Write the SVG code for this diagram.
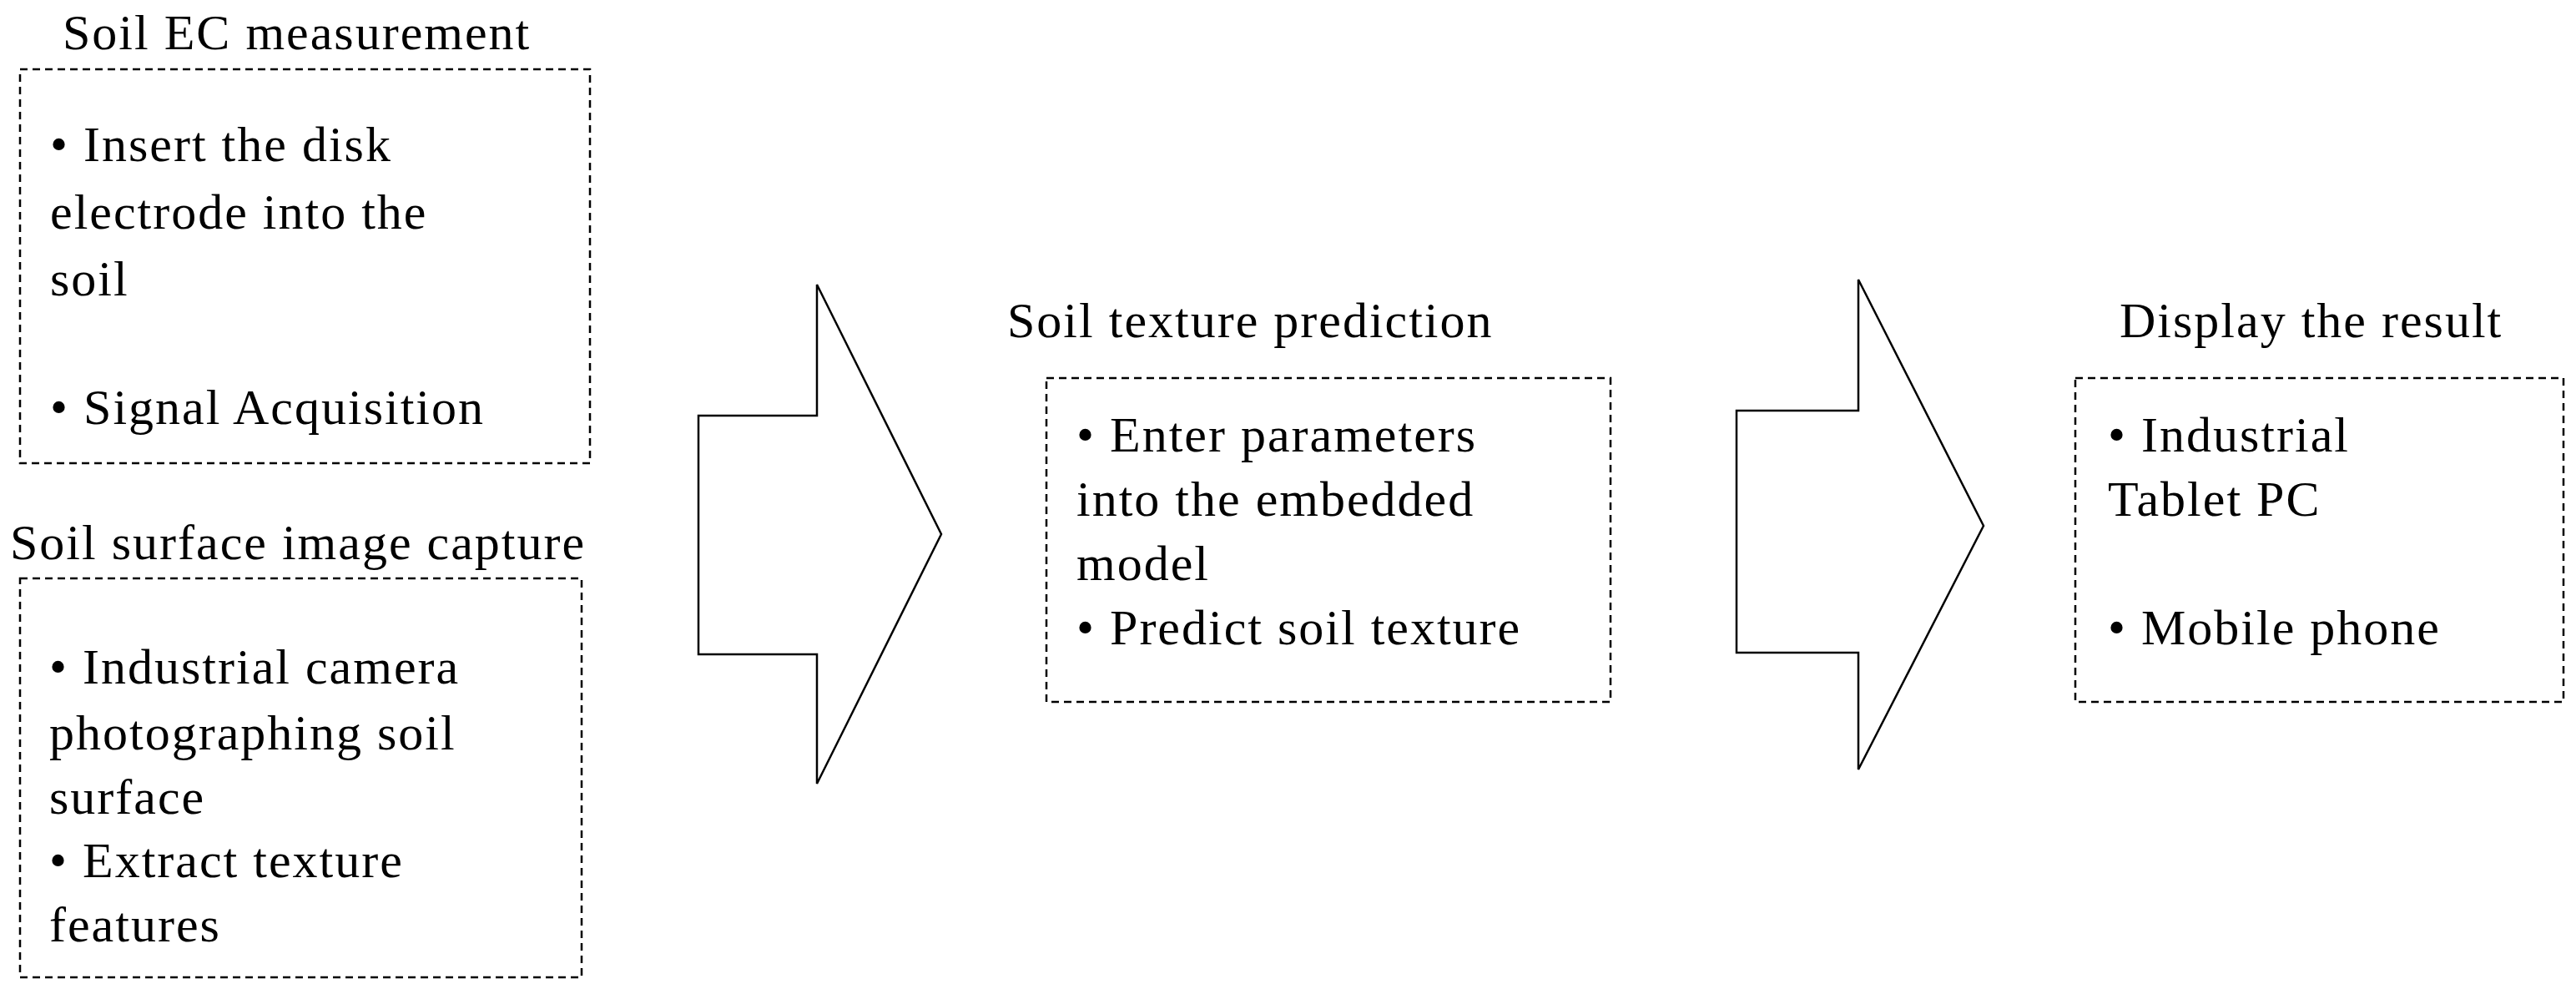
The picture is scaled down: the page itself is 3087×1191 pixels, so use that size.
<svg xmlns="http://www.w3.org/2000/svg" width="3087" height="1191" viewBox="0 0 3087 1191">
<style>
.b{fill:none;stroke:#000;stroke-width:2.5;stroke-dasharray:9 6}
.a{fill:#fff;stroke:#000;stroke-width:2.5}
text{font-family:"Liberation Serif",serif;font-size:60px;letter-spacing:2px;fill:#000}
</style>
<rect width="3087" height="1191" fill="#fff"/>
<g id="connectors">
<polygon class="a" points="837,498 979,498 979,341 1128,640 979,939 979,784 837,784"/>
<polygon class="a" points="2081,492 2227,492 2227,335 2377,630 2227,922 2227,782 2081,782"/>
</g>
<g id="n1">
<text x="75" y="59">Soil EC measurement</text>
<rect class="b" x="24" y="83" width="683" height="472"/>
<text x="60" y="193">• Insert the disk</text>
<text x="60" y="274">electrode into the</text>
<text x="60" y="354">soil</text>
<text x="60" y="508">• Signal Acquisition</text>
</g>
<g id="n2">
<text x="12" y="670">Soil surface image capture</text>
<rect class="b" x="24" y="693" width="673" height="478"/>
<text x="59" y="819">• Industrial camera</text>
<text x="59" y="898">photographing soil</text>
<text x="59" y="975">surface</text>
<text x="59" y="1051">• Extract texture</text>
<text x="59" y="1128">features</text>
</g>
<g id="n3">
<text x="1207" y="404">Soil texture prediction</text>
<rect class="b" x="1254" y="453" width="676" height="388"/>
<text x="1290" y="541">• Enter parameters</text>
<text x="1290" y="618">into the embedded</text>
<text x="1290" y="695">model</text>
<text x="1290" y="772">• Predict soil texture</text>
</g>
<g id="n4">
<text x="2540" y="404">Display the result</text>
<rect class="b" x="2487" y="453" width="585" height="388"/>
<text x="2526" y="541">• Industrial</text>
<text x="2526" y="618">Tablet PC</text>
<text x="2526" y="772">• Mobile phone</text>
</g>
</svg>
